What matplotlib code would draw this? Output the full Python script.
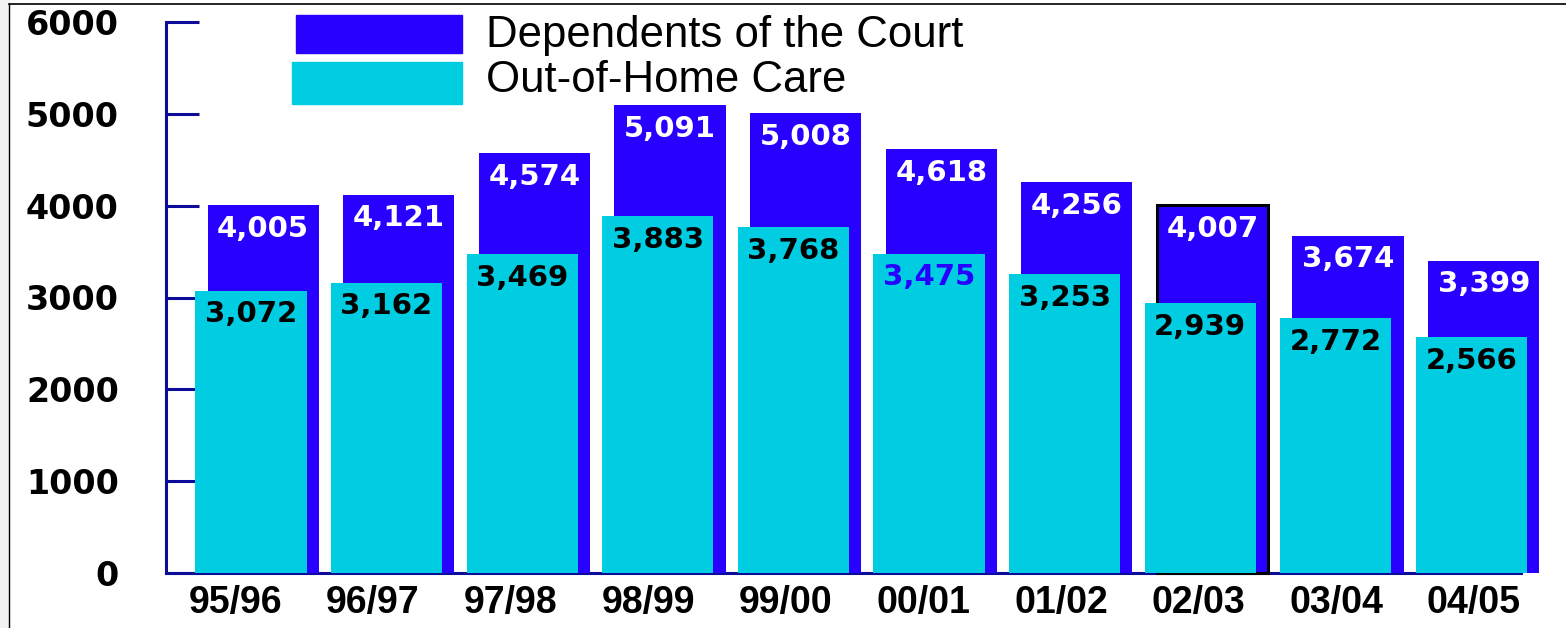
import numpy as np
import matplotlib
matplotlib.use("Agg")
import matplotlib.pyplot as plt
from matplotlib.patches import Rectangle
from matplotlib.lines import Line2D

# --- data ---
years = ["95/96", "96/97", "97/98", "98/99", "99/00",
         "00/01", "01/02", "02/03", "03/04", "04/05"]
dependents = [4005, 4121, 4574, 5091, 5008, 4618, 4256, 4007, 3674, 3399]
out_of_home = [3072, 3162, 3469, 3883, 3768, 3475, 3253, 2939, 2772, 2566]
y_ticks = [0, 1000, 2000, 3000, 4000, 5000, 6000]

DARK = "#2800ff"
CYAN = "#00cce2"
NAVY = "#0c0c98"

W, H = 1566, 628
fig = plt.figure(figsize=(W / 100, H / 100), dpi=100)
fig.patch.set_facecolor("white")

# axes placed to match the pixel layout of the reference
ax = fig.add_axes([166 / W, 1 - 573 / H, (1521 - 166) / W, (573 - 22) / H])
ax.set_facecolor("white")

x = np.arange(len(years))
bw = 0.82
edge = ["black" if y == "02/03" else DARK for y in years]
lw = [2.2 if y == "02/03" else 0 for y in years]
ax.bar(x + 0.045, dependents, width=bw, color=DARK, edgecolor=edge,
       linewidth=lw, zorder=3, clip_on=False)
ax.bar(x - 0.045, out_of_home, width=bw, color=CYAN, linewidth=0,
       zorder=4, clip_on=False)

# value labels inside the bars
for xi, v in zip(x, dependents):
    ax.annotate(f"{v:,}", (xi + 0.045, v), xytext=(0, -17),
                textcoords="offset points", ha="center", va="center",
                color="white", fontsize=21, fontweight="bold",
                family="DejaVu Sans", zorder=5)
for xi, v, yr in zip(x, out_of_home, years):
    col = DARK if yr == "00/01" else "black"
    ax.annotate(f"{v:,}", (xi - 0.045, v), xytext=(0, -17),
                textcoords="offset points", ha="center", va="center",
                color=col, fontsize=21, fontweight="bold",
                family="DejaVu Sans", zorder=5)

ax.set_xlim(-0.671, 9.32)
ax.set_ylim(0, 6000)

ax.set_yticks(y_ticks)
ax.set_yticklabels([str(t) for t in y_ticks], fontsize=24,
                   fontweight="bold", family="DejaVu Sans")
ax.tick_params(axis="y", direction="in", length=24, width=2.2,
               color=NAVY, pad=34)
# category labels sit a little left of the bars, spreading slightly wider
ax.set_xticks(x * 1.0147 - 0.16)
ax.set_xticklabels(years, fontsize=27, fontweight="bold",
                   family="Liberation Sans")
ax.tick_params(axis="x", length=0, pad=9)

for side in ["top", "right"]:
    ax.spines[side].set_visible(False)
for side in ["left", "bottom"]:
    ax.spines[side].set_color(NAVY)
    ax.spines[side].set_linewidth(2.2)

# legend drawn as plain boxes and text
fig.add_artist(Rectangle((296 / W, 1 - 53 / H), 166 / W, 38 / H,
                         transform=fig.transFigure, color=DARK))
fig.add_artist(Rectangle((292 / W, 1 - 104 / H), 170 / W, 42 / H,
                         transform=fig.transFigure, color=CYAN))
fig.text(486 / W, 1 - 35 / H, "Dependents of the Court", fontsize=31.5,
         family="Liberation Sans", va="center", ha="left")
fig.text(486 / W, 1 - 80 / H, "Out-of-Home Care", fontsize=31.5,
         family="Liberation Sans", va="center", ha="left")

# thin frame at the top and left edge
fig.add_artist(Rectangle((0, 0), 9 / W, 1, transform=fig.transFigure,
                         color="#f2f2f2", zorder=0))
fig.add_artist(Line2D([9 / W, 1], [1 - 4 / H, 1 - 4 / H],
                      transform=fig.transFigure, color="black", linewidth=1.2))
fig.add_artist(Line2D([9 / W, 9 / W], [0, 1 - 4 / H],
                      transform=fig.transFigure, color="black", linewidth=1.0))

fig.savefig("out.png", dpi=100)
